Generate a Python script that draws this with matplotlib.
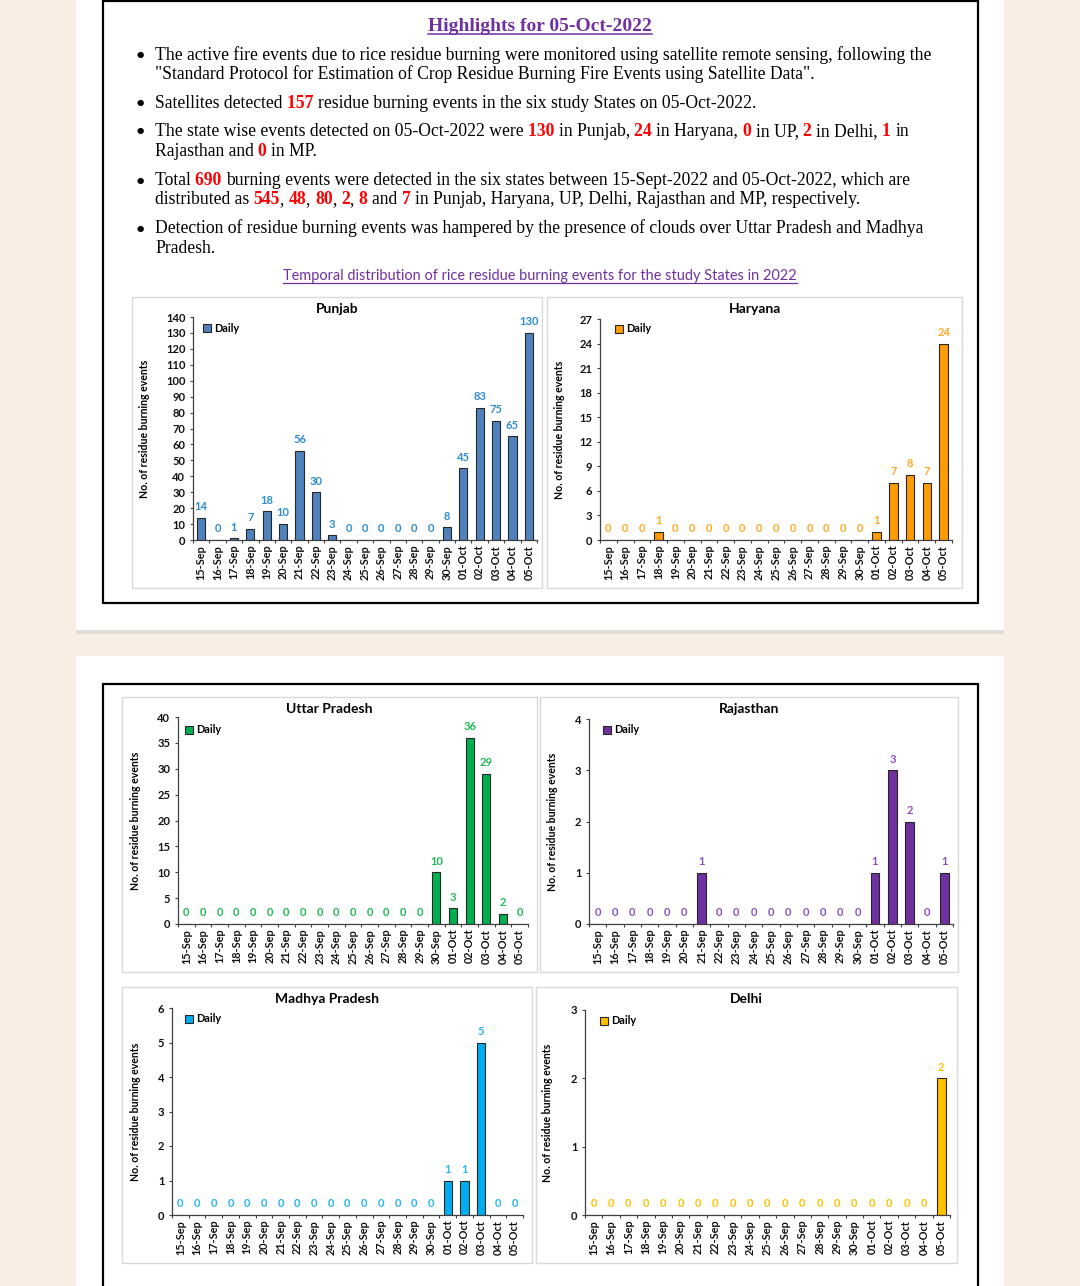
import numpy as np
import matplotlib
matplotlib.use('Agg')
import matplotlib.pyplot as plt
import matplotlib.patches as patch
from matplotlib.font_manager import FontProperties

W, H = 1080, 1286

# daily residue burning events, 15-Sep to 05-Oct
dates = ['15-Sep', '16-Sep', '17-Sep', '18-Sep', '19-Sep', '20-Sep', '21-Sep',
         '22-Sep', '23-Sep', '24-Sep', '25-Sep', '26-Sep', '27-Sep', '28-Sep',
         '29-Sep', '30-Sep', '01-Oct', '02-Oct', '03-Oct', '04-Oct', '05-Oct']
punjab = [14, 0, 1, 7, 18, 10, 56, 30, 3, 0, 0, 0, 0, 0, 0, 8, 45, 83, 75, 65, 130]
haryana = [0, 0, 0, 1, 0, 0, 0, 0, 0, 0, 0, 0, 0, 0, 0, 0, 1, 7, 8, 7, 24]
uttar_pradesh = [0, 0, 0, 0, 0, 0, 0, 0, 0, 0, 0, 0, 0, 0, 0, 10, 3, 36, 29, 2, 0]
rajasthan = [0, 0, 0, 0, 0, 0, 1, 0, 0, 0, 0, 0, 0, 0, 0, 0, 1, 3, 2, 0, 1]
madhya_pradesh = [0, 0, 0, 0, 0, 0, 0, 0, 0, 0, 0, 0, 0, 0, 0, 0, 1, 1, 5, 0, 0]
delhi = [0, 0, 0, 0, 0, 0, 0, 0, 0, 0, 0, 0, 0, 0, 0, 0, 0, 0, 0, 0, 2]

serif = 'Liberation Serif'
cfont = 'Lato'
purple = '#7030A0'

fig = plt.figure(figsize=(W / 100, H / 100), dpi=100, facecolor='#F8EEE6')
renderer = fig.canvas.get_renderer()


def fx(x):
    return x / W


def fy(y):
    return 1 - y / H


def rect(x0, y0, x1, y1, z=-1, **kw):
    r = patch.Rectangle((fx(x0), fy(y1)), (x1 - x0) / W, (y1 - y0) / H,
                        transform=fig.transFigure, figure=fig, zorder=z, **kw)
    fig.patches.append(r)


def text_w(s, fp):
    w1, _, _ = renderer.get_text_width_height_descent(s + '|', fp, ismath=False)
    w2, _, _ = renderer.get_text_width_height_descent('|', fp, ismath=False)
    return w1 - w2


# pages and frames
rect(76, -5, 1004, 630, z=-3, facecolor='white', edgecolor='none')
rect(76, 630, 1004, 634, z=-3, facecolor='#E2DDD7', edgecolor='none')
rect(76, 656, 1004, 1295, z=-3, facecolor='white', edgecolor='none')
rect(103, 1, 978, 603, z=-2, facecolor='none', edgecolor='black', lw=1.6)
rect(103, 684, 978, 1300, z=-2, facecolor='none', edgecolor='black', lw=1.6)

# heading
fp_title = FontProperties(family=serif, weight='bold', size=14)
title = 'Highlights for 05-Oct-2022'
fig.text(fx(540), fy(31), title, fontproperties=fp_title, color=purple,
         ha='center', va='baseline')
tw = text_w(title, fp_title)
fig.add_artist(plt.Line2D([fx(540 - tw / 2), fx(540 + tw / 2)], [fy(34), fy(34)],
                          color=purple, lw=1.1, transform=fig.transFigure))

# bullet text, (text, highlighted)
lines = [
    [("The active fire events due to rice residue burning were monitored using satellite remote sensing, following the", False)],
    [('"Standard Protocol for Estimation of Crop Residue Burning Fire Events using Satellite Data".', False)],
    [("Satellites detected ", False), ("157 ", True),
     ("residue burning events in the six study States on 05-Oct-2022.", False)],
    [("The state wise events detected on 05-Oct-2022 were ", False), ("130 ", True),
     ("in Punjab, ", False), ("24 ", True), ("in Haryana, ", False), ("0 ", True),
     ("in UP, ", False), ("2 ", True), ("in Delhi, ", False), ("1 ", True), ("in", False)],
    [("Rajasthan and ", False), ("0 ", True), ("in MP.", False)],
    [("Total ", False), ("690 ", True),
     ("burning events were detected in the six states between 15-Sept-2022 and 05-Oct-2022, which are", False)],
    [("distributed as ", False), ("545", True), (", ", False), ("48", True), (", ", False),
     ("80", True), (", ", False), ("2", True), (", ", False), ("8 ", True), ("and ", False),
     ("7 ", True), ("in Punjab, Haryana, UP, Delhi, Rajasthan and MP, respectively.", False)],
    [("Detection of residue burning events was hampered by the presence of clouds over Uttar Pradesh and Madhya", False)],
    [("Pradesh.", False)],
]
baselines = [60, 79, 108, 136, 156, 185, 204, 233, 253]
bullet_rows = [0, 2, 3, 5, 7]
body_size = 12.7

for i, (parts, yb) in enumerate(zip(lines, baselines)):
    if i in bullet_rows:
        fig.text(fx(140), fy(yb - 5), '\u25CF', fontsize=6, family='DejaVu Sans',
                 ha='center', va='center')
    x = 155
    for s, red in parts:
        fp = FontProperties(family=serif, size=body_size,
                            weight='bold' if red else 'normal')
        fig.text(fx(x), fy(yb), s, fontproperties=fp,
                 color='#FF0000' if red else 'black', ha='left', va='baseline')
        x += text_w(s, fp)

fp_sub = FontProperties(family=cfont, size=10.45)
sub = 'Temporal distribution of rice residue burning events for the study States in 2022'
fig.text(fx(540), fy(280), sub, fontproperties=fp_sub, color=purple,
         ha='center', va='baseline')
sw = text_w(sub, fp_sub)
fig.add_artist(plt.Line2D([fx(540 - sw / 2), fx(540 + sw / 2)], [fy(282.5), fy(282.5)],
                          color=purple, lw=0.9, transform=fig.transFigure))


def chart(name, vals, ymax, step, panel, box, ylab_x, leg, bar_c, lab_c):
    px0, py0, px1, py1 = panel
    rect(px0, py0, px1, py1, z=-1, facecolor='white', edgecolor='#D9D9D9', lw=1)
    fig.text(fx((px0 + px1) / 2), fy(py0 + 12), name, family=cfont, weight='bold',
             fontsize=10, ha='center', va='center')
    l, t, r, b = box
    ax = fig.add_axes([fx(l), fy(b), (r - l) / W, (b - t) / H])
    ax.set_facecolor('none')
    x = np.arange(len(dates))
    ax.bar(x, vals, width=0.5, color=bar_c, edgecolor='#262626', lw=0.8)
    for xi, v in zip(x, vals):
        ax.annotate(str(v), (xi, v), xytext=(0, 8), textcoords='offset points',
                    ha='center', va='center', color=lab_c, fontsize=8,
                    fontweight='bold', family=cfont, annotation_clip=False)
    ax.set_xlim(-0.5, len(dates) - 0.5)
    ax.set_ylim(0, ymax)
    ax.set_yticks(np.arange(0, ymax + step / 2, step))
    ax.set_xticks(x)
    ax.set_xticklabels(dates, rotation=90)
    ax.set_xticks(np.arange(-0.5, len(dates)), minor=True)
    ax.tick_params(axis='x', which='major', length=0, pad=3.5)
    ax.tick_params(axis='x', which='minor', length=2.5, width=0.8, color='#404040')
    ax.tick_params(axis='y', length=2.5, width=0.8, color='#404040', pad=3)
    for lab in ax.get_xticklabels() + ax.get_yticklabels():
        lab.set_family(cfont)
        lab.set_fontweight('bold')
        lab.set_color('#111111')
    for lab in ax.get_xticklabels():
        lab.set_fontsize(7.8)
    for lab in ax.get_yticklabels():
        lab.set_fontsize(8)
    for s in ['top', 'right']:
        ax.spines[s].set_visible(False)
    for s in ['left', 'bottom']:
        ax.spines[s].set_color('#404040')
        ax.spines[s].set_linewidth(0.9)
    ax.set_ylabel('No. of residue burning events', family=cfont, weight='bold', fontsize=7.6)
    ax.yaxis.set_label_coords((ylab_x + 5 - l) / (r - l), 0.5)
    handle = patch.Patch(facecolor=bar_c, edgecolor='#262626', lw=0.8)
    ax.legend([handle], ['Daily'], loc='center left', bbox_to_anchor=(fx(leg[0]), fy(leg[1])),
              bbox_transform=fig.transFigure, frameon=False, borderpad=0, borderaxespad=0,
              handlelength=0.75, handleheight=0.75, handletextpad=0.3,
              prop=FontProperties(family=cfont, weight='bold', size=7.8))
    return ax


chart('Punjab', punjab, 140, 10, (132, 297, 542, 588), (193, 317, 537, 540), 145,
      (203, 328), '#4F81BD', '#2E8BCF')
chart('Haryana', haryana, 27, 3, (547, 297, 962, 588), (600, 319, 952, 540), 560,
      (615, 329), '#FF9B05', '#FFA726')
chart('Uttar Pradesh', uttar_pradesh, 40, 5, (122, 697, 537, 972), (178, 717, 528, 924), 136,
      (185, 730), '#00B050', '#1DB954')
chart('Rajasthan', rajasthan, 4, 1, (540, 697, 958, 972), (589, 719, 953, 924), 553,
      (603, 730), '#7030A0', '#8A4FBF')
chart('Madhya Pradesh', madhya_pradesh, 6, 1, (122, 987, 532, 1263), (172, 1008, 523, 1215), 136,
      (185, 1019), '#00AEEF', '#24B5F0')
chart('Delhi', delhi, 3, 1, (536, 987, 957, 1263), (585, 1010, 950, 1215), 548,
      (600, 1021), '#FFC000', '#FFC000')

fig.savefig('out.png', dpi=100, facecolor=fig.get_facecolor())
